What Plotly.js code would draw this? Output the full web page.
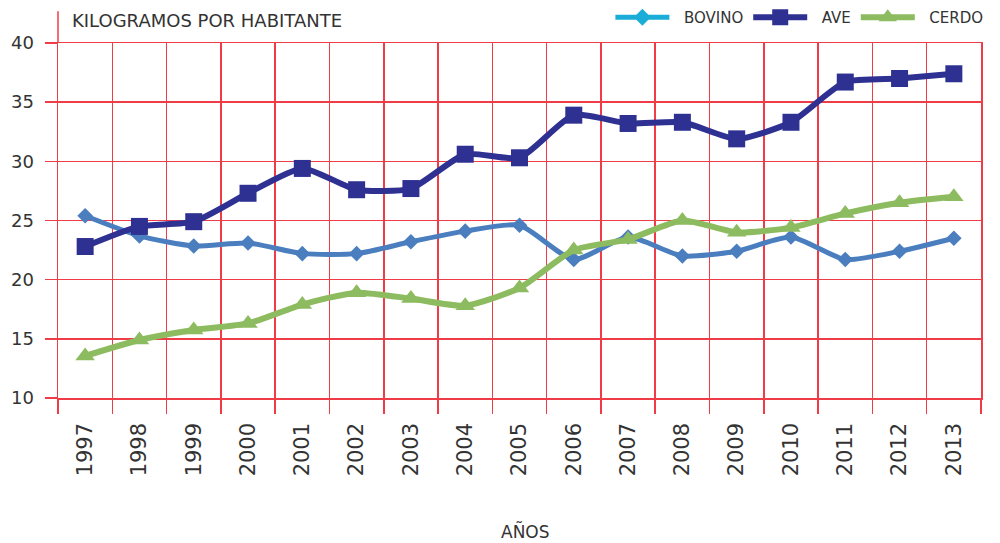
<!DOCTYPE html>
<html>
<head>
<meta charset="utf-8">
<script src="https://cdn.plot.ly/plotly-3.0.1.min.js"></script>
<style>html,body{margin:0;padding:0;background:#fff;}#chart{width:1000px;height:543px;}</style>
</head>
<body>
<div id="chart"></div>
<script>
const years = ["1997","1998","1999","2000","2001","2002","2003","2004","2005","2006","2007","2008","2009","2010","2011","2012","2013"];
const bovino = [25.4,23.7,22.85,23.1,22.2,22.2,23.2,24.1,24.6,21.7,23.6,22.0,22.4,23.6,21.7,22.4,23.5];
const ave    = [22.8,24.5,24.9,27.3,29.4,27.6,27.7,30.6,30.3,33.9,33.2,33.3,31.9,33.3,36.7,37.0,37.4];
const cerdo  = [13.55,14.9,15.75,16.3,17.9,18.9,18.4,17.8,19.3,22.5,23.4,25.0,24.0,24.4,25.6,26.5,27.0];
const yTicks = [10,15,20,25,30,35,40];
const seriesNames = ["BOVINO", "AVE", "CERDO"];

const FONT = "DejaVu Sans, sans-serif";
const TXT = "#333333";
const RED = "#F03C46";
const PAD = "\u00a0\u00a0";

const traces = [
  {x: years, y: bovino, name: seriesNames[0], type: "scatter", mode: "lines+markers", showlegend: false,
   line: {color: "#4A7EBF", width: 5, shape: "spline", smoothing: 0.6},
   marker: {symbol: "diamond", size: 12, color: "#4A7EBF"}},
  {x: years, y: ave, name: seriesNames[1], type: "scatter", mode: "lines+markers", showlegend: false,
   line: {color: "#2E3192", width: 6, shape: "spline", smoothing: 0.6},
   marker: {symbol: "square", size: 17, color: "#2E3192"}},
  {x: years, y: cerdo, name: seriesNames[2], type: "scatter", mode: "lines+markers", showlegend: false,
   line: {color: "#8DBB5F", width: 6, shape: "spline", smoothing: 0.6},
   marker: {symbol: "triangle-up", size: 17, color: "#8DBB5F"}},
  // legend entries
  {x: [null], y: [null], name: PAD + seriesNames[0], type: "scatter", mode: "lines+markers",
   line: {color: "#1AADD8", width: 5}, marker: {symbol: "diamond", size: 13, color: "#1AADD8"}},
  {x: [null], y: [null], name: PAD + seriesNames[1], type: "scatter", mode: "lines+markers",
   line: {color: "#2E3192", width: 6}, marker: {symbol: "square", size: 17, color: "#2E3192"}},
  {x: [null], y: [null], name: PAD + seriesNames[2], type: "scatter", mode: "lines+markers",
   line: {color: "#8DBB5F", width: 6}, marker: {symbol: "triangle-up", size: 16, color: "#8DBB5F"}}
];

const layout = {
  width: 1000, height: 543,
  paper_bgcolor: "#ffffff", plot_bgcolor: "#ffffff",
  margin: {l: 57.7, r: 19, t: 42.7, b: 145.3, autoexpand: false},
  font: {family: FONT, color: TXT},
  title: {text: "KILOGRAMOS POR HABITANTE", x: 0.072, xanchor: "left", y: 1 - 21/543, yanchor: "middle",
          font: {family: FONT, size: 18, color: TXT}},
  xaxis: {
    type: "category", range: [-0.5, 16.5], tickson: "boundaries",
    showgrid: true, gridcolor: RED, gridwidth: 1.5,
    showline: true, mirror: true, linecolor: RED, linewidth: 1.5,
    ticks: "outside", ticklen: 14, tickcolor: RED, tickwidth: 1.5,
    tickangle: -90, ticklabelstandoff: 15, tickfont: {family: FONT, size: 21, color: TXT},
    zeroline: false, fixedrange: true
  },
  yaxis: {
    range: [10, 40], tickvals: yTicks, ticktext: yTicks.map(String),
    showgrid: true, gridcolor: RED, gridwidth: 1.5,
    showline: true, mirror: true, linecolor: RED, linewidth: 1.5,
    ticks: "outside", ticklen: 12, tickcolor: RED, tickwidth: 1.5,
    ticklabelstandoff: 7, tickfont: {family: FONT, size: 18, color: TXT},
    zeroline: false, fixedrange: true
  },
  legend: {orientation: "h", x: 1.008, xanchor: "right", y: 1.072, yanchor: "middle",
           font: {family: FONT, size: 15, color: TXT}, itemwidth: 54, bgcolor: "rgba(0,0,0,0)", traceorder: "normal"},
  annotations: [
    {text: "AÑOS", xref: "paper", yref: "paper", x: 0.507, y: -(531 - 397.7)/355,
     xanchor: "center", yanchor: "middle", showarrow: false, font: {family: FONT, size: 17, color: TXT}}
  ],
  shapes: [
    {type: "line", xref: "paper", yref: "paper", x0: 0, x1: 0, y0: 1, y1: 1 + 31.7/355,
     line: {color: RED, width: 1.5}}
  ],
  showlegend: true
};

Plotly.newPlot("chart", traces, layout, {displayModeBar: false, staticPlot: true});
</script>
</body>
</html>
